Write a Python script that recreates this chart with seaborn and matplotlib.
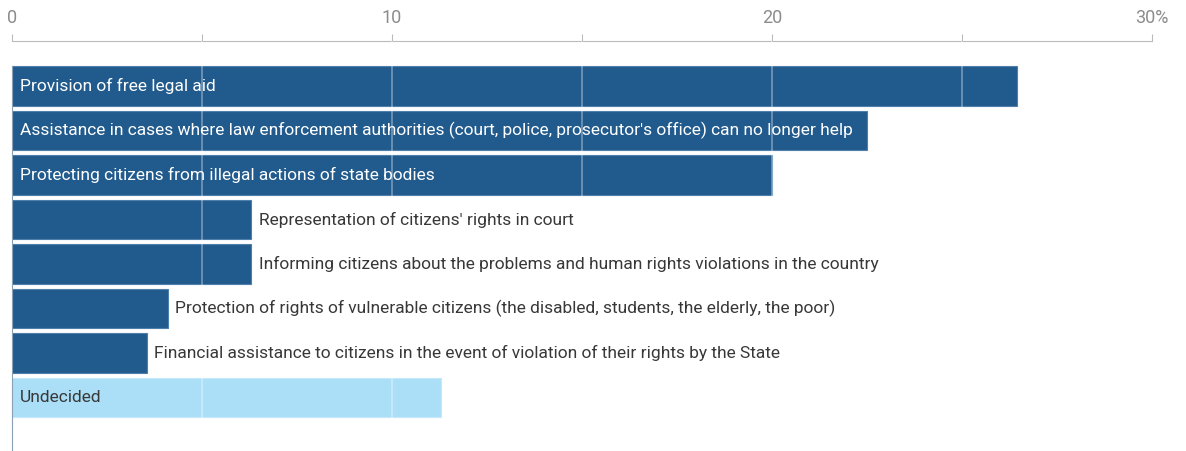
import matplotlib
matplotlib.use('Agg')
import matplotlib.pyplot as plt
import seaborn as sns
import numpy as np

# data
categories = [
    "Provision of free legal aid",
    "Assistance in cases where law enforcement authorities (court, police, prosecutor's office) can no longer help",
    "Protecting citizens from illegal actions of state bodies",
    "Representation of citizens' rights in court",
    "Informing citizens about the problems and human rights violations in the country",
    "Protection of rights of vulnerable citizens (the disabled, students, the elderly, the poor)",
    "Financial assistance to citizens in the event of violation of their rights by the State",
    "Undecided",
]
values = [26.45, 22.5, 20.0, 6.3, 6.3, 4.1, 3.55, 11.3]
inside_label = [True, True, True, False, False, False, False, True]
tick_values = [0, 10, 20, 30]
tick_labels = ["0", "10", "20", "30%"]

dark_blue = '#215a8c'
light_blue = '#abdff8'
colors = [dark_blue] * 7 + [light_blue]

sns.set_style('white')
plt.rcParams['font.family'] = ['Roboto', 'DejaVu Sans']

fig = plt.figure(figsize=(11.86, 4.51), dpi=100)
ax = fig.add_axes([12 / 1186, 0, 1140 / 1186, 1 - 41 / 451])

sns.barplot(x=values, y=categories, hue=categories, palette=colors, legend=False,
            orient='h', width=0.88, ax=ax, edgecolor='#4f7fab', linewidth=0.8, saturation=1)
# undecided bar gets a lighter edge
ax.patches[-1].set_edgecolor('#c4e8fa')

ax.set_xlim(0, 30)
ax.set_ylim(8.2, -1.01)

# white grid lines over the bars
for gx in [5, 10, 15, 20, 25]:
    ax.axvline(gx, color='white', alpha=0.38, lw=1.2, zorder=5)

# labels
for i, (lab, val, inside) in enumerate(zip(categories, values, inside_label)):
    if inside:
        col = 'white' if i < 7 else '#383838'
        ax.text(0.2, i, lab, va='center', ha='left', color=col, fontsize=12.5, zorder=6)
    else:
        ax.text(val + 0.2, i, lab, va='center', ha='left', color='#383838', fontsize=12.5, zorder=6)

# top axis
ax.xaxis.tick_top()
ax.set_xticks(np.arange(0, 31, 5))
ax.set_xticklabels([tick_labels[tick_values.index(t)] if t in tick_values else '' for t in range(0, 31, 5)])
ax.tick_params(axis='x', direction='out', length=5, width=0.8, color='#bbbbbb',
               labelcolor='#8c8c8c', labelsize=13, pad=5)
ax.set_yticks([])
ax.set_ylabel('')
ax.set_xlabel('')

for s in ['right', 'bottom']:
    ax.spines[s].set_visible(False)
ax.spines['top'].set_color('#bbbbbb')
ax.spines['top'].set_linewidth(0.8)
ax.spines['left'].set_color('#8aa0b4')
ax.spines['left'].set_linewidth(0.8)
ax.spines['left'].set_bounds(-0.44, 8.2)

fig.savefig('out.png', dpi=100)
